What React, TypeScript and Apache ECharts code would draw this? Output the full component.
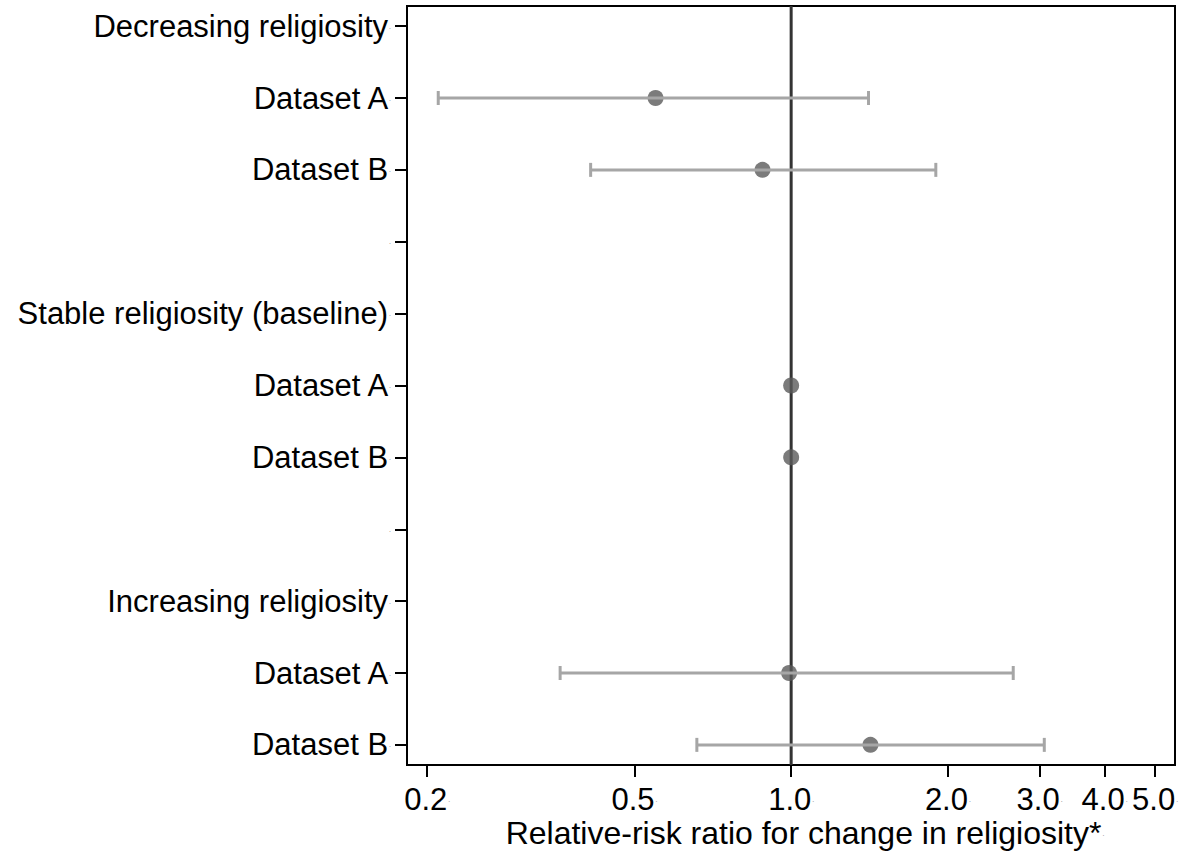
import React, { useEffect, useRef } from "react";
import * as echarts from "echarts";

// Row labels (top to bottom)
const rowLabels = [
  "Decreasing religiosity",
  "Dataset A",
  "Dataset B",
  "",
  "Stable religiosity (baseline)",
  "Dataset A",
  "Dataset B",
  "",
  "Increasing religiosity",
  "Dataset A",
  "Dataset B",
];

// Point estimates: [row index, relative-risk ratio]
const pointRows = [1, 2, 5, 6, 9, 10];
const pointValues = [0.549, 0.881, 1.0, 1.0, 0.991, 1.42];

// Confidence intervals: [row index, lower, upper]
const ciRows = [1, 2, 9, 10];
const ciLower = [0.21, 0.412, 0.36, 0.659];
const ciUpper = [1.408, 1.896, 2.67, 3.063];

// X-axis tick values
const xTicks = [0.2, 0.5, 1.0, 2.0, 3.0, 4.0, 5.0];
const xMin = 0.1829;
const xMax = 5.46;
const refLine = 1.0;

const axisTitle = "Relative-risk ratio for change in religiosity*";

const FONT = "'Liberation Sans', Arial, Helvetica, sans-serif";

export default function App() {
  const ref = useRef<HTMLDivElement>(null);

  useEffect(() => {
    if (!ref.current) return;
    const chart = echarts.init(ref.current, null, { renderer: "svg" });
    const lg = (v: number) => Math.log10(v);

    const rich = {
      t: { fontSize: 31, fontFamily: FONT, color: "#000" },
      d: { fontSize: 7, fontFamily: FONT, color: "#777", padding: [0, 0, 0, 1] },
    };
    const xRich = {
      t: { fontSize: 31, lineHeight: 26, fontFamily: FONT, color: "#000" },
      d: { fontSize: 7, lineHeight: 26, fontFamily: FONT, color: "#777", padding: [0, 0, 0, 1] },
    };
    const nameRich = {
      t: { fontSize: 32, lineHeight: 26, fontFamily: FONT, fill: "#000", color: "#000" },
      d: { fontSize: 7, lineHeight: 26, fontFamily: FONT, fill: "#777", color: "#777", padding: [0, 0, 0, 1] },
    };

    const option: any = {
      animation: false,
      backgroundColor: "#fff",
      grid: {
        left: 407,
        right: 16,
        top: 6,
        bottom: 87,
        show: true,
        borderColor: "#000",
        borderWidth: 2,
        containLabel: false,
        outerBoundsMode: "none",
      },
      graphic: [
        {
          type: "text",
          x: 805,
          y: 833,
          silent: true,
          style: {
            text: `{t|${axisTitle}}{d|.}`,
            rich: nameRich,
            align: "center",
            verticalAlign: "middle",
            fill: "#000",
            font: `32px ${FONT}`,
          },
        },
      ],
      xAxis: {
        type: "value",
        min: lg(xMin),
        max: lg(xMax),
        axisLine: { show: true, onZero: false, lineStyle: { color: "#000", width: 2 } },
        axisTick: {
          show: true,
          length: 12,
          lineStyle: { color: "#000", width: 2 },
          customValues: xTicks.map(lg),
        },
        axisLabel: {
          show: true,
          margin: 21,
          customValues: xTicks.map(lg),
          formatter: (v: number) => `{t|${Math.pow(10, v).toFixed(1)}}{d|.}`,
          rich: xRich,
        },
        splitLine: { show: false },
      },
      yAxis: {
        type: "value",
        inverse: true,
        min: -0.28,
        max: 10.28,
        axisLine: { show: true, onZero: false, lineStyle: { color: "#000", width: 2 } },
        axisTick: {
          show: true,
          length: 12,
          lineStyle: { color: "#000", width: 2 },
          customValues: rowLabels.map((_, i) => i),
        },
        axisLabel: {
          show: true,
          margin: 16,
          customValues: rowLabels.map((_, i) => i),
          formatter: (v: number) => `{t|${rowLabels[Math.round(v)] ?? ""}}{d|.}`,
          rich,
        },
        splitLine: { show: false },
      },
      series: [
        {
          type: "line",
          data: [
            [lg(refLine), -0.28],
            [lg(refLine), 10.28],
          ],
          symbol: "none",
          lineStyle: { color: "#333", width: 3 },
          z: 1,
          silent: true,
        },
        {
          type: "scatter",
          data: pointRows.map((r, i) => [lg(pointValues[i]), r]),
          symbol: "circle",
          symbolSize: 16,
          itemStyle: { color: "#5a5a5a" },
          z: 2,
          silent: true,
        },
        {
          type: "custom",
          data: ciRows.map((r, i) => [lg(ciLower[i]), lg(ciUpper[i]), r]),
          encode: { x: [0, 1], y: 2 },
          z: 3,
          silent: true,
          renderItem: (params: any, api: any) => {
            const p1 = api.coord([api.value(0), api.value(2)]);
            const p2 = api.coord([api.value(1), api.value(2)]);
            const h = 7;
            const style = { stroke: "#a6a6a6", lineWidth: 3 };
            return {
              type: "group",
              children: [
                { type: "line", shape: { x1: p1[0], y1: p1[1], x2: p2[0], y2: p2[1] }, style },
                { type: "line", shape: { x1: p1[0], y1: p1[1] - h, x2: p1[0], y2: p1[1] + h }, style },
                { type: "line", shape: { x1: p2[0], y1: p2[1] - h, x2: p2[0], y2: p2[1] + h }, style },
              ],
            };
          },
        },
      ],
    };

    chart.setOption(option);
    return () => chart.dispose();
  }, []);

  return (
    <div
      ref={ref}
      style={{ position: "fixed", left: 0, top: 0, width: 1191, height: 852, background: "#fff" }}
    />
  );
}
